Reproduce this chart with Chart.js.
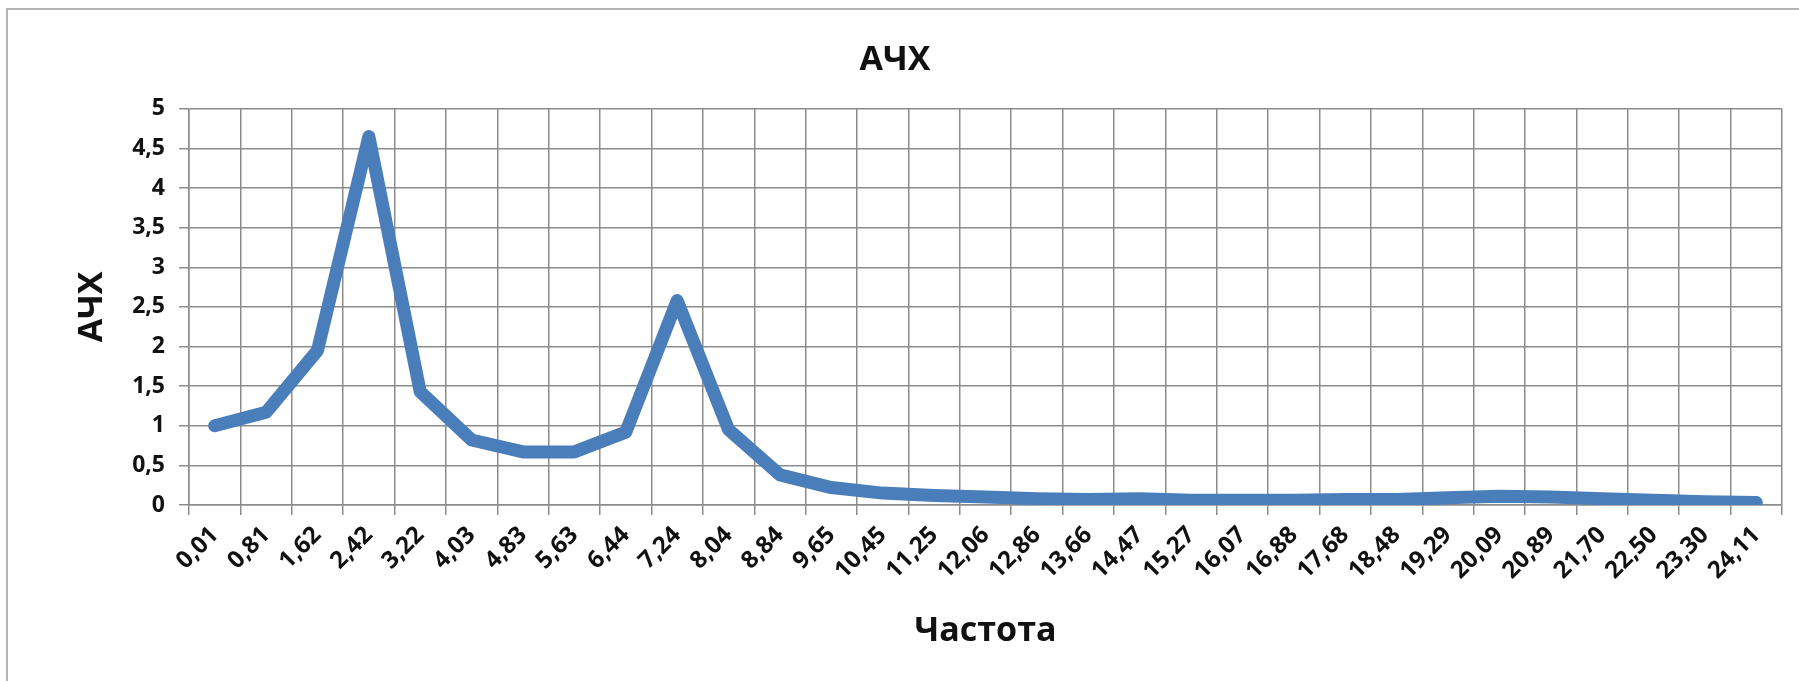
<!DOCTYPE html>
<html>
<head>
<meta charset="utf-8">
<script src="https://cdn.jsdelivr.net/npm/chart.js@4"></script>
<style>
    body { margin: 0; background: #fff; overflow: hidden; }
    #frame { position: absolute; left: 6px; top: 8px; width: 1820px; height: 700px;
             border-left: 2px solid #b4b4b4; border-top: 2px solid #b4b4b4; }
    #myChart { position: absolute; left: 0; top: 0; }
</style>
</head>
<body>
<div id="frame"></div>
<canvas id="myChart" width="1799" height="681"></canvas>
<script>
// частоты (подписи оси X)
const freqLabels = [
    "0,01", "0,81", "1,62", "2,42", "3,22", "4,03", "4,83", "5,63", "6,44", "7,24",
    "8,04", "8,84", "9,65", "10,45", "11,25", "12,06", "12,86", "13,66", "14,47", "15,27",
    "16,07", "16,88", "17,68", "18,48", "19,29", "20,09", "20,89", "21,70", "22,50", "23,30",
    "24,11"
];

// значения АЧХ
const achValues = [
    1.00, 1.17, 1.95, 4.65, 1.43, 0.82, 0.67, 0.67, 0.92, 2.58,
    0.95, 0.38, 0.22, 0.15, 0.12, 0.10, 0.08, 0.07, 0.08, 0.06,
    0.06, 0.06, 0.07, 0.07, 0.09, 0.11, 0.10, 0.08, 0.06, 0.04,
    0.03
];

const yTicks = [0, 0.5, 1, 1.5, 2, 2.5, 3, 3.5, 4, 4.5, 5];

const font = "'Open Sans', 'Noto Sans', sans-serif";
const gridColor = "#8c8c8c";

const ctx = document.getElementById("myChart").getContext("2d");
new Chart(ctx, {
    type: "line",
    data: {
        labels: freqLabels,
        datasets: [{
            label: "АЧХ",
            data: achValues,
            borderColor: "#4a7ebb",
            borderWidth: 13,
            borderJoinStyle: "round",
            borderCapStyle: "round",
            pointRadius: 0,
            tension: 0,
            fill: false,
        }],
    },
    options: {
        responsive: false,
        animation: false,
        devicePixelRatio: 1,
        layout: { padding: { left: 8, right: 17, top: 14, bottom: 0 } },
        plugins: {
            legend: { display: false },
            tooltip: { enabled: false },
            title: {
                display: true,
                text: "АЧХ",
                color: "#111",
                font: { family: font, size: 34, weight: "bold" },
                padding: { top: 26, bottom: 28 },
            },
        },
        scales: {
            x: {
                type: "category",
                offset: true,
                grid: { offset: true, color: gridColor, lineWidth: 1.5, tickLength: 10, tickColor: gridColor },
                border: { color: gridColor, width: 1.5 },
                ticks: {
                    color: "#111",
                    font: { family: font, size: 24, weight: "bold" },
                    maxRotation: 45,
                    minRotation: 45,
                    autoSkip: false,
                    padding: 6,
                },
                title: {
                    display: true,
                    text: "Частота",
                    color: "#111",
                    font: { family: font, size: 34, weight: "bold" },
                    padding: { top: 0, bottom: 29 },
                },
                afterFit: (scale) => { scale.height = 176; },
            },
            y: {
                min: 0,
                max: 5,
                afterBuildTicks: (scale) => { scale.ticks = yTicks.map((v) => ({ value: v })); },
                grid: { color: gridColor, lineWidth: 1.5, tickLength: 10, tickColor: gridColor },
                border: { color: gridColor, width: 1.5 },
                ticks: {
                    color: "#111",
                    font: { family: font, size: 23, weight: "bold" },
                    padding: 14,
                    callback: (v) => String(v).replace(".", ","),
                },
                title: {
                    display: true,
                    text: "АЧХ",
                    color: "#111",
                    font: { family: font, size: 34, weight: "bold" },
                    padding: { top: 64, bottom: 0 },
                },
                afterFit: (scale) => { scale.width = 181; },
            },
        },
    },
});
</script>
</body>
</html>
